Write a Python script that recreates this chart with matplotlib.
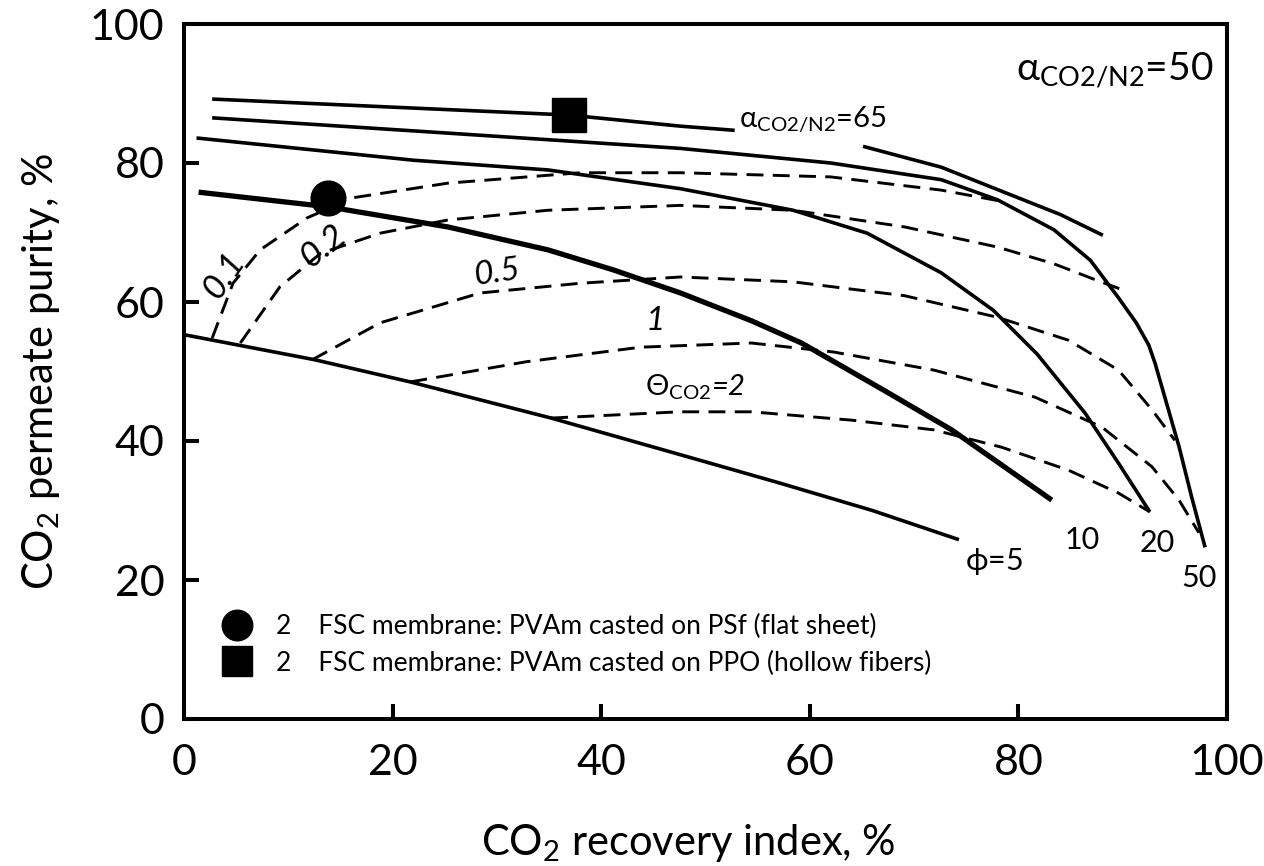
import matplotlib
matplotlib.use("Agg")
import matplotlib.pyplot as plt
from matplotlib.lines import Line2D

plt.rcParams['font.family'] = ['Lato', 'DejaVu Sans']
plt.rcParams['mathtext.fontset'] = 'custom'
plt.rcParams['mathtext.rm'] = 'Lato'
plt.rcParams['mathtext.it'] = 'Lato:italic'
plt.rcParams['mathtext.sf'] = 'Lato'

# solid curves: constant pressure ratio phi (alpha CO2/N2 = 50)
phi5_x = [0, 12.5, 21.7, 35.2, 50.0, 57.0, 66.0, 74.3]
phi5_y = [55.3, 51.7, 48.5, 43.3, 37.0, 34.0, 30.0, 25.8]

phi10_x = [1.4, 13.8, 25.3, 34.9, 41.2, 47.6, 54.4, 59.2, 67.1, 73.6, 83.2]
phi10_y = [75.8, 73.7, 70.8, 67.5, 64.6, 61.3, 57.3, 54.1, 47.3, 41.6, 31.5]

phi20_x = [1.2, 22.0, 34.9, 47.6, 58.4, 65.5, 72.6, 77.6, 81.8, 86.4, 89.6, 92.6]
phi20_y = [83.6, 80.4, 79.0, 76.3, 73.2, 69.9, 64.2, 58.8, 52.5, 44.0, 36.8, 29.8]

phi50_x = [2.7, 25.3, 47.6, 62.0, 72.6, 78.0, 83.4, 86.9, 89.6, 91.3, 92.5, 93.1, 94.0, 95.4, 96.6, 97.9]
phi50_y = [86.5, 84.3, 82.1, 80.0, 77.6, 74.7, 70.4, 66.0, 60.6, 57.0, 53.8, 51.2, 46.5, 39.2, 32.0, 24.7]

# alpha CO2/N2 = 65 curve (broken by its label)
a65_left_x = [2.7, 36.9, 47.6, 52.8]
a65_left_y = [89.2, 86.9, 85.3, 84.7]
a65_right_x = [65.1, 72.6, 79.8, 84.0, 88.1]
a65_right_y = [82.4, 79.4, 75.1, 72.6, 69.6]

# dashed curves: constant stage cut theta
th01_x = [2.7, 4.7, 7.3, 11.8, 16.2, 25.3, 38.0, 47.6, 62.0, 72.6, 78.0]
th01_y = [54.8, 62.7, 67.5, 72.1, 75.0, 77.1, 78.6, 78.6, 78.0, 76.1, 74.6]

th02_x = [5.4, 9.2, 13.1, 18.8, 25.3, 34.9, 47.6, 58.4, 69.1, 78.0, 83.4, 87.2, 89.9]
th02_y = [54.1, 62.2, 67.0, 69.9, 71.8, 73.2, 73.9, 73.2, 70.8, 67.9, 65.5, 63.3, 61.8]

th05_x = [12.3, 18.8, 28.4, 38.0, 47.6, 58.4, 69.1, 78.0, 84.8, 89.6, 92.8, 95.0]
th05_y = [51.7, 57.0, 61.3, 62.7, 63.6, 62.9, 60.9, 57.8, 54.5, 50.2, 44.5, 40.1]

th1_x = [21.7, 32.8, 43.8, 54.4, 62.3, 71.9, 81.6, 88.0, 92.8, 95.4, 97.3]
th1_y = [48.5, 51.4, 53.5, 54.1, 52.8, 50.2, 46.3, 42.0, 36.3, 31.5, 26.8]

th2_x = [35.2, 47.5, 54.4, 64.0, 71.9, 78.4, 84.8, 89.6, 92.6]
th2_y = [43.3, 44.2, 44.2, 43.0, 41.6, 39.1, 35.8, 32.5, 29.8]

# experimental points
psf_x = [13.8]
psf_y = [75.0]
ppo_x = [36.9]
ppo_y = [86.9]

legend_labels = ['2    FSC membrane: PVAm casted on PSf (flat sheet)',
                 '2    FSC membrane: PVAm casted on PPO (hollow fibers)']

ticks = [0, 20, 40, 60, 80, 100]

fig = plt.figure(figsize=(12.64, 8.66), dpi=100)
ax = fig.add_axes([184 / 1264, 1 - 719 / 866, 1043 / 1264, 695 / 866])

solid = dict(color='k', lw=2.6, solid_capstyle='butt', solid_joinstyle='round')
dash = dict(color='k', lw=2.1, ls=(0, (5.8, 3.2)))

ax.plot(phi5_x, phi5_y, **solid)
ax.plot(phi10_x, phi10_y, color='k', lw=3.8, solid_capstyle='butt', solid_joinstyle='round')
ax.plot(phi20_x, phi20_y, **solid)
ax.plot(phi50_x, phi50_y, **solid)
ax.plot(a65_left_x, a65_left_y, **solid)
ax.plot(a65_right_x, a65_right_y, **solid)

for xs, ys in [(th01_x, th01_y), (th02_x, th02_y), (th05_x, th05_y),
               (th1_x, th1_y), (th2_x, th2_y)]:
    ax.plot(xs, ys, **dash)

ax.plot(psf_x, psf_y, 'o', color='k', ms=25)
ax.plot(ppo_x, ppo_y, 's', color='k', ms=25)

# curve labels
ax.text(98.7, 93.4, r'$\mathrm{\alpha}_{\mathrm{CO2/N2}}$=50', fontsize=28, ha='right', va='center')
ax.text(53.2, 86.2, r'$\mathrm{\alpha}_{\mathrm{CO2/N2}}$=65', fontsize=21, ha='left', va='center')
ax.text(77.7, 22.6, r'$\mathrm{\phi}$=5', fontsize=22, ha='center', va='center')
ax.text(86.1, 25.8, '10', fontsize=22, ha='center', va='center')
ax.text(93.3, 25.3, '20', fontsize=22, ha='center', va='center')
ax.text(97.3, 20.3, '50', fontsize=22, ha='center', va='center')
ax.text(3.8, 63.8, '0.1', fontsize=25, style='italic', rotation=55, ha='center', va='center')
ax.text(13.3, 68.0, '0.2', fontsize=25, style='italic', rotation=38, ha='center', va='center')
ax.text(30.0, 64.2, '0.5', fontsize=24, style='italic', rotation=8, ha='center', va='center')
ax.text(45.2, 57.2, '1', fontsize=24, style='italic', ha='center', va='center')
ax.text(44.2, 47.8, r'$\Theta_{\mathrm{CO2}}$=2', fontsize=21, style='italic', ha='left', va='center')

# legend
handles = [Line2D([], [], marker='o', ls='none', color='k', ms=22),
           Line2D([], [], marker='s', ls='none', color='k', ms=22)]
ax.legend(handles, legend_labels, loc='center left', bbox_to_anchor=(0.039, 0.1065),
          frameon=False, fontsize=19, handlelength=0.95, handletextpad=1.0,
          labelspacing=0.42, borderpad=0, borderaxespad=0)

ax.set_xlim(0, 100)
ax.set_ylim(0, 100)
ax.set_xticks(ticks)
ax.set_yticks(ticks)
for s in ax.spines.values():
    s.set_linewidth(2.9)
ax.tick_params(direction='in', length=11, width=2.9, labelsize=31)
ax.tick_params(axis='x', pad=18)
ax.tick_params(axis='y', pad=14)

ax.set_xlabel('CO$_2$ recovery index, %', fontsize=30)
ax.set_ylabel('CO$_2$ permeate purity, %', fontsize=30)
ax.xaxis.set_label_coords(0.483, -0.148)
ax.yaxis.set_label_coords(-0.117, 0.5)

fig.savefig('out.png', dpi=100, facecolor='white')
